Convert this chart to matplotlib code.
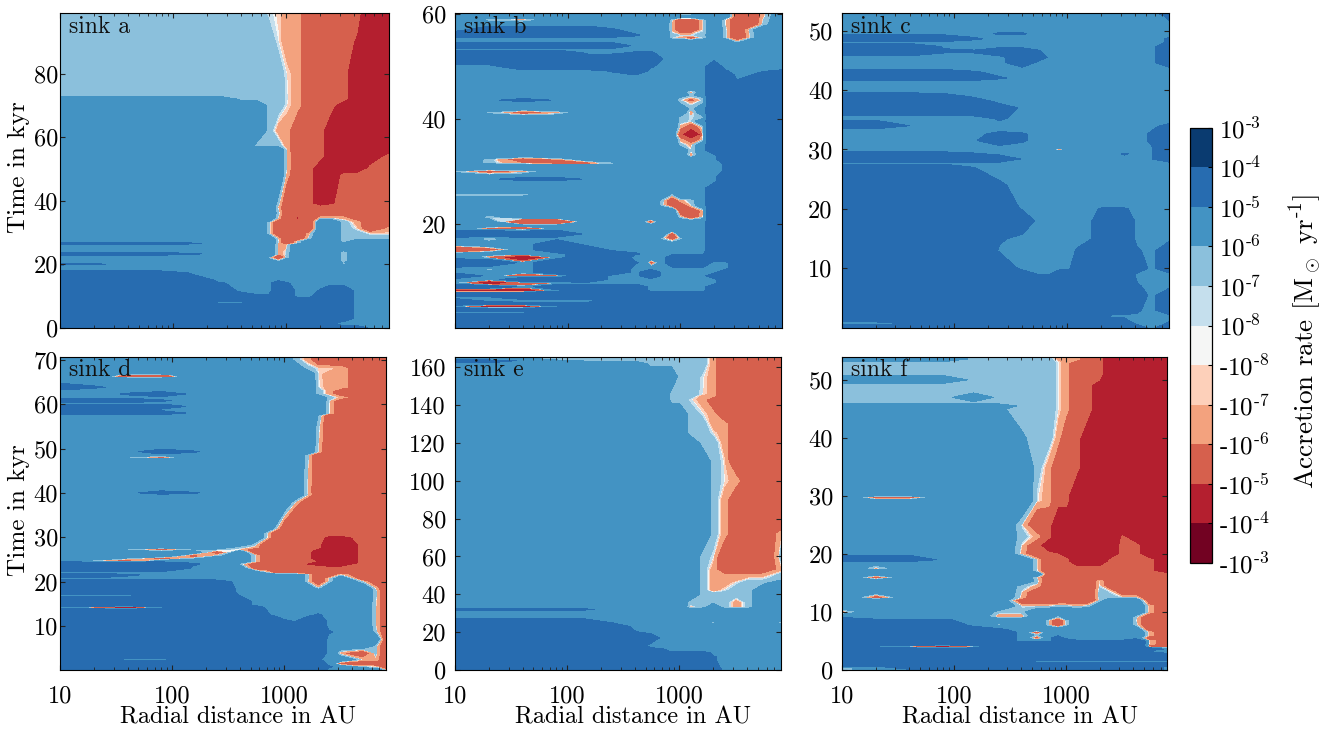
import numpy as np
import matplotlib
matplotlib.use("Agg")
import matplotlib.pyplot as plt
from matplotlib.ticker import LogLocator, NullFormatter

plt.rcParams['font.family'] = ['cmr10', 'DejaVu Serif']
plt.rcParams['mathtext.fontset'] = 'cm'
plt.rcParams['axes.unicode_minus'] = False
plt.rcParams['axes.formatter.use_mathtext'] = True

# level edges of the colour bar, in solar masses per year
rate_edges = [-1e-3, -1e-4, -1e-5, -1e-6, -1e-7, -1e-8, 1e-8, 1e-7, 1e-6, 1e-5, 1e-4, 1e-3]
band_colors = ['#720222', '#b41f2f', '#d6604d', '#f3a27e', '#fdd0ba', '#f5f6f5',
               '#c5dfed', '#8bc0dc', '#4393c3', '#276cb0', '#0a3b70']
band_labels = ['-10$^{\\text{-3}}$', '-10$^{\\text{-4}}$', '-10$^{\\text{-5}}$', '-10$^{\\text{-6}}$',
               '-10$^{\\text{-7}}$', '-10$^{\\text{-8}}$', '10$^{\\text{-8}}$', '10$^{\\text{-7}}$',
               '10$^{\\text{-6}}$', '10$^{\\text{-5}}$', '10$^{\\text{-4}}$', '10$^{\\text{-3}}$']

radius = [10, 20, 40, 80, 150, 250, 400, 550, 700, 850, 1000, 1250, 1600, 2000, 2500, 3200, 4200, 5500, 8000]
radius_d = [10, 20, 40, 80, 150, 250, 400, 550, 700, 850, 1000, 1250, 1600, 2000, 2500, 3200, 5000, 6500, 8000]

# grid values below are read off the picture as band numbers:
# +1..+5 = the positive colour bands from 1e-8 upward, -1..-5 = the negative ones, 0 = the white band
a_time = [0, 0.8, 1.5, 3, 8, 9.5, 10, 11.5, 14, 15, 17.3, 18, 19.6, 20, 20.4, 21, 22, 22.7, 23.2, 23.8, 26, 26.5, 27, 28,
          29.5, 31, 33.2, 34.5, 36, 38, 39, 48, 50, 54, 56, 57.3, 62, 70, 72, 73.2, 80, 90, 99.2]
a_rate = [
    [4]*17+[3,3],
    [3,3,3]+[4]*12+[3,3,3,2],
    [4]*14+[3.6,3,3,3,3],
    [4]*16+[3,3,3],
    [4]*5+[3.4,3.4]+[4]*9+[3,3,3],
    [4]*11+[3.5,3.5,4,4,4,3,3,3],
    [4]*7+[3.6,3.6,4,4,3,3,4,4,4,3,3,3],
    [4]*6+[3,3,3,4,4,3,3,3.6,4,4,3,3,3],
    [4]*5+[3.6,3,3,3,4,3.6]+[3]*8,
    [4]*5+[3]*14,
    [4]*4+[3]*15,
    [3]*19,
    [3]*19,
    [4,3.6]+[3]*13+[2]+[3]*3,
    [3]*15+[2.4]+[3]*3,
    [3]*9+[2]+[3]*5+[2]+[3]*3,
    [3]*8+[1,-3,1]+[3]*4+[1.5]+[3]*3,
    [3]*8+[3,-3,2]+[3]*4+[1.5]+[3]*3,
    [4,4,4,4,3.6]+[3]*4+[-2,1]+[3]*4+[-1]+[3]*3,
    [3]*9+[-2,1]+[3]*4+[2]+[3]*3,
    [3]*9+[-2,-2]+[3]*4+[3]+[3]*3,
    [4,4,4,4,3.6]+[3]*4+[-2,-3,0,3,3,3,3,3,3,3],
    [3]*9+[-1,-3,0,3,3,3,2,3,3,3],
    [3]*9+[-2,-3,-3,2,3,3,2,2,2,2],
    [3]*8+[2,-3,-3,-3,-2,3,3,2,2,-1,-1],
    [3]*8+[2,-3,-3,-3,-3,3,3,2,-1,-3,-2],
    [3]*8+[2,-3,-3,-3,-3,3,3,2,-2,-3,-3],
    [3]*9+[-2,-3,-3.6,-3,-2,-2,-2,-3,-3,-3],
    [3]*9+[2]+[-3]*9,
    [3]*9+[-2]+[-3]*9,
    [3]*9+[2,-3,-3,-3,-4,-3.6,-3,-3,-3,-3],
    [3]*10+[-2,-3,-3,-4,-4,-3,-3,-3,-3],
    [3]*10+[1,-3,-3,-4,-4,-4,-4,-3,-3],
    [3]*10+[0,-3,-3,-3,-4,-4,-4,-4,-3],
    [3]*10+[-1,-3,-3,-3,-4,-4,-4,-4,-4],
    [3]*7+[2,2,2,-2,-3,-3,-3,-4,-4,-4,-4,-4],
    [3]*8+[2,-2,-2,-3,-3,-3,-4,-4,-4,-4,-4],
    [3]*8+[2,2,0,-2,-3,-3,-3,-4,-4,-4,-4],
    [3]*6+[2,2,2,2,1,-2,-3,-3,-3,-3,-4,-4,-4],
    [2]*10+[1,-2,-3,-3,-3,-3,-4,-4,-4],
    [2]*10+[0,-2,-3,-3,-3,-3,-4,-4,-4],
    [2]*9+[0,-2,-2,-3,-3,-3,-3,-3.6,-4,-4],
    [2]*8+[1,-1,-2,-2,-3,-3,-3,-3,-3,-4,-4],
]

b_time = [0, 2.5, 3, 3.5, 4.2, 4.7, 5.2, 5.8, 6.6, 7.2, 7.9, 8.6, 9.3, 10, 10.7, 11.4, 12.5, 13.5, 14.2, 15, 16, 17.2, 18, 19,
          19.6, 20.3, 21.2, 22.5, 23.5, 24.5, 25.5, 26.8, 28.1, 28.5, 28.9, 30, 30.5, 31.1, 31.5, 32.3, 33, 34, 35, 36, 37, 38.5,
          39.6, 40.3, 41.2, 42, 43.2, 43.6, 44, 44.5, 45.2, 46, 47.5, 48.4, 49.2, 50, 51.5, 52.7, 53.3, 54, 54.8, 55.5, 56, 57,
          58, 59, 59.6, 60.4]
b_rate = [
    [4]*19,
    [4]*19,
    [3,3,3]+[4]*16,
    [4]*19,
    [-3,-4,-4,3]+[4]*15,
    [4]*19,
    [4,3,-3.5,-3.5,-3.5]+[4]*14,
    [3,3]+[4]*17,
    [4]*19,
    [-4,-4,-4,3,4,4,4,3,3,3,3,3,3]+[4]*6,
    [4,4,3,4,4,4,4,3,3,3,3,3,3]+[4]*6,
    [2,-4,-3.5,-3,3,3,3,3,3,3,3,3,3,3]+[4]*5,
    [3,3,4,4,4,3,3,3,3,3,3,3,3,3]+[4]*5,
    [4,3,-3.5,-3.5,4,3,3,4,3,3,3,3,3,4]+[4]*5,
    [3,3,3,4,4,4,3,4,3,3,3,3,3,3]+[4]*5,
    [3,-2.5,3,4,4,4,3,3,3,3,3,3,3,3,3]+[4]*4,
    [4,4,3,4,4,4,3.6,-3,3,4,4,4,4,3,3]+[4]*4,
    [3,-3,-4,3,4,4,3,3,3]+[4]*10,
    [3,3,3,3,4,4,3.6,3,3,3,3.4,3.4,3.4]+[4]*6,
    [-3.5,-3,3,4,4,3,3,3,3,3,3,3,3]+[4]*6,
    [3,3,3,4,3,3,3,3,3,3,3,3,3]+[4]*6,
    [3,-2.5,3,3,3,3,3,3,0,-3,0,3,3]+[4]*6,
    [4,4,4,4,3,3,3,3,3,-3,3,3,3]+[4]*6,
    [3,-3,-3.5,3,3,3,3,3,3,3,3,3,3]+[4]*6,
    [3]*13+[4]*6,
    [3,3,-3.5,-3.5,3,3,3,-3,3,3,3,3,3]+[4]*6,
    [3,1,3,3,3,3,3,3,3,3,1,-3,1]+[4]*6,
    [3]*10+[-3,-3,-2]+[4]*6,
    [3]*8+[1,-3,-3,-1,3]+[4]*6,
    [3]*8+[2,-3,-2,2,3]+[4]*6,
    [2,2,2]+[3]*6+[2,3,3,3]+[4]*6,
    [3]*13+[4]*6,
    [3]*14+[4]*5,
    [3,3,4,4]+[3]*10+[4]*5,
    [3]*14+[4]*5,
    [2,-3,-2.5]+[3]*11+[3.6]+[4]*4,
    [3]*14+[3.6]+[4]*4,
    [3]*14+[3.6]+[4]*4,
    [3,2,-2.5,-3,-3,1]+[3]*8+[3.6]+[4]*4,
    [3,2,-3,-2.5]+[3]*10+[4]*5,
    [3]*11+[-2.5,3]+[3]+[4]*5,
    [3]*11+[1,3]+[4]*6,
    [3]*10+[2,-2,3]+[4]*6,
    [3]*10+[-2,-3,1]+[4]*6,
    [3]*10+[-3,-4.2,1]+[4]*6,
    [3]*10+[-2,-3,2]+[4]*6,
    [3]*10+[2,0,3]+[4]*6,
    [3]*10+[2,1,2]+[4]*6,
    [3,2,-3,-2.5]+[3]*7+[-2.5,3]+[4]*6,
    [3]*11+[2,3]+[4]*6,
    [3]*10+[2,-2,2]+[4]*6,
    [3,3,4,3]+[3]*6+[1,-3,2]+[4]*6,
    [3]*10+[2,-2,2]+[4]*6,
    [3]*11+[2,3]+[4]*6,
    [3]*11+[-2.5,3]+[4]*6,
    [3]*13+[4]*6,
    [3]*13+[4,4,3.5,4,4,4],
    [3,3,3,3,3,3,3.5]+[3]*6+[4,4,3,3.4,4,4],
    [3]*5+[3.6,4,3.2]+[3]*5+[4,3.6,3,3,3.4,3.6],
    [3,3,4,4,4,4,4,3.6]+[3]*5+[4,3,3,3,3,3],
    [4]*8+[3.5]+[3]*10,
    [4,4,4,4,3,3,3.6,3.6]+[3]*11,
    [3]*19,
    [4]*6+[3]*13,
    [3]*15+[-2,3,3,3],
    [3]*9+[1,-2,-3,1,3,2,-3,1,3,3],
    [4,4,4,4,4,4,3.6,3,3,2,1,1,2,3,2,-3,1,3,3],
    [3,4,4,4,4,3.6,3,3,3,-2,-3,-3,-1,3,2,-3,2,3,3],
    [3]*9+[-2,-3,-3,-1,3,1,-3,-3,2,3],
    [3,1,-2.5,3,3,3,3,3,3,0,-3,-3,0,3,1,-3,-3,1,3],
    [3]*15+[-3,-3,-2,3],
    [3]*9+[3,-3,-3,2,3,3,-3,-3,-2,3],
]

c_time = [0, 0.7, 2, 3, 5.5, 7, 9, 10, 13, 15, 18, 20, 20.6, 24, 27, 27.7, 28.4, 29.3, 29.7, 30, 30.4, 31.5, 32.6, 33.3, 34,
          35.2, 37, 38, 39, 39.7, 41.5, 42, 43, 43.6, 44.6, 45.5, 46.5, 47.3, 48, 48.6, 49.5, 50, 52.4, 53]
c_rate = [
    [4]*17+[3,4],
    [3,3,3.6]+[4]*13+[3,3,3.6],
    [4]*14+[3,3,3.4,3,3],
    [4]*16+[3.6,3,4],
    [4]*17+[3,4],
    [4]*6+[3.4]+[4]*9+[3.6,3,3],
    [4]*7+[3.5,3.5]+[4]*7+[3,3,3],
    [4]*6+[3,3,3,3,3]+[4]*6+[3,4],
    [4]*5+[3.4,3,3,3,3,3,3.6,4,4,4,4,3.6,3,4],
    [4]*5+[3.6,3,3,3,3,3,3,3.4,4,4,4,3,3,3],
    [4]*7+[3,3,3,3,3,3.3,4,4,4,3,3,3],
    [4]*6+[3.4,3,3,3,3,3,3,3.6,3.6,3.6,3,3,3],
    [4]*6+[3]*13,
    [4]*5+[3.6]+[3]*13,
    [4]*4+[3.5]+[3]*14,
    [3]*19,
    [4]*6+[3.4]+[3]*10+[3.4,4],
    [4,4,4,4,3.6]+[3]*10+[3.6,3,3.4,4],
    [3]*17+[3.4,4],
    [3]*9+[-3]+[3]*7+[3.4,4],
    [3]*17+[3.4,4],
    [3]*4+[3.4,4,3.6]+[3]*10+[3.6,4],
    [3]*5+[3.8,3.6]+[3]*10+[3.6,4],
    [3]*17+[3.4,4],
    [4,4,3.5]+[3]*14+[3.4,3.6],
    [3]*5+[3.6]+[3]*13,
    [4]*6+[3]*13,
    [4]*5+[3]*14,
    [4,4,4,3.8]+[3]*15,
    [3]*19,
    [3]*19,
    [4]*5+[3.6]+[3]*13,
    [4]*4+[3.6]+[3]*14,
    [3]*19,
    [3]*6+[4]+[3]*11+[4],
    [3]*6+[4,4]+[3]*10+[4],
    [4,4,4,3.6,3.6,4,4,3.6]+[3]*10+[4],
    [4,4,4,3.4]+[3]*14+[4],
    [3]*18+[3.6],
    [4,4,4,4,3.6]+[3]*13+[3.6],
    [3]*5+[3.6,3.6]+[3]*12,
    [3]*19,
    [3]*18+[3.6],
    [3]*7+[3.6]+[3]*10+[4],
]

d_time = [0, 0.8, 1.5, 2.4, 3.9, 5.5, 7, 8.7, 10, 11, 12.5, 13.5, 14.2, 14.7, 15.5, 17, 17.8, 18.5, 20, 20.6, 21.5, 22, 23, 24,
          24.6, 25.2, 25.8, 26.6, 27.2, 27.8, 28.5, 30, 31, 32, 35, 38, 39.6, 40, 40.6, 45, 47.5, 48, 48.6, 49.3, 50, 55,
          57.5, 58, 58.7, 59.5, 60.2, 60.8, 61.5, 62.3, 63, 63.8, 65, 65.8, 66.3, 66.9, 68, 70, 70.9]
d_rate = [
    [3,3,3.5]+[4]*11+[3,3,3,3,0],
    [4]*14+[3.6,3,-1,-2,-3],
    [4]*14+[3,-3,-3,-3,-3],
    [4,4,3,3]+[4]*9+[3.6,3,3,-2,-2,-3],
    [4]*14+[3,-2.5,-3,2,-3],
    [4]*14+[3,3,3,2,-3],
    [4]*14+[3,3,3,3,-3],
    [4]*14+[3.6,3,3,2,-3],
    [4]*14+[3,3,3,0,-3],
    [4]*10+[3.6,3.5,4,4,3,3,3,0,-3],
    [4]*8+[3.6,3,3,3,3,3.6,3,3,3,0,-3],
    [4]*8+[3.5]+[3]*8+[0,-3],
    [3,-3.5,-4,3]+[4]*4+[3]*9+[0,-3],
    [4]*7+[3]*10+[1,-3],
    [4]*7+[3]*10+[1,-3],
    [3,3,3]+[4]*3+[3.4]+[3]*10+[2,-3],
    [4]*6+[3]*11+[2,-3],
    [4]*6+[3]*7+[-1,3,3,3,-2,-3],
    [4]*5+[3.8]+[3]*6+[0,-3,0,3,-1,-3,-3],
    [3]*12+[2,-3,-1,3,-3,-3,-3],
    [4,4,3.6]+[3]*9+[2,-3,-3,-1,-3,-3,-3],
    [3]*8+[2]+[-3]*10,
    [4]*4+[3.4,3,3]+[-3]*12,
    [4]*4+[3.6,3,2]+[-3]*5+[-3.6,-3.8,-4,-4,-3,-3,-3],
    [3,-2.5,-3,3,3,3,3,1]+[-3]*4+[-3,-3.6,-4,-4,-3,-3,-3],
    [3,3,2,-3,2,3,3,1]+[-3]*4+[-3,-4,-4,-4,-3,-3,-3],
    [3,3,3,3,-3,2,3,1]+[-3]*4+[-3,-4,-4,-4,-3,-3,-3],
    [3,3,3,3,3,-3,3,-3]+[-3]*4+[-3,-4,-4,-4,-3,-3,-3],
    [3,3,2,-3,2,2,-2,-3]+[-3]*4+[-3,-3.7,-4,-4,-3,-3,-3],
    [3]*6+[2,-2]+[-3]*4+[-3,-3,-4,-4,-3,-3,-3],
    [3]*7+[2]+[-3]*6+[-4,-4]+[-3]*3,
    [3]*8+[0]+[-3]*5+[-3.7,-3.7]+[-3]*3,
    [3]*8+[1]+[-3]*10,
    [3]*9+[0]+[-3]*9,
    [3]*10+[1]+[-3]*8,
    [3]*11+[1]+[-3]*7,
    [3]*12+[1]+[-3]*6,
    [3,3,3,4,3.6]+[3]*7+[0]+[-3]*6,
    [3]*12+[0]+[-3]*6,
    [3]*12+[1]+[-3]*6,
    [3]*12+[2]+[-3]*6,
    [3,3,2,-3]+[3]*8+[2]+[-3]*6,
    [3]*12+[2]+[-3]*6,
    [3,3,3,4,3.6]+[3]*8+[-1]+[-3]*5,
    [3]*13+[-1]+[-3]*5,
    [3]*13+[2]+[-3]*5,
    [3]*13+[2.5]+[-3]*5,
    [4,4,4,4]+[3]*10+[0]+[-3]*4,
    [3]*14+[0]+[-3]*4,
    [4,4,4,4]+[3]*10+[0]+[-3]*4,
    [3]*14+[0]+[-3]*4,
    [4,4,4,3.6]+[3]*10+[1,-3,-3,-3,-3],
    [3]*14+[2,-2,-3,-3,-3],
    [3,3,3.6,4]+[3]*9+[2,-2]+[-3]*4,
    [3]*13+[2,-2,-3,-3,-3,-3],
    [4,3.6]+[3]*11+[1,-2,-2,-3,-3,-3],
    [3]*13+[1,-2,-2,-3,-3,-3],
    [3]*13+[0,-2,-2,-3,-3,-3],
    [3,3,-3.5,-3.5]+[3]*9+[0,-2,-2,-3,-3,-3],
    [3]*13+[0,-2,-2,-3,-3,-3],
    [3]*12+[2,-1,-1,-2,-3,-3,-3],
    [3]*11+[2,-2]+[-3]*6,
    [3]*11+[2,-2]+[-3]*6,
]

e_time = [0, 5, 7, 9, 10, 13, 17, 20, 23, 25, 27, 27.6, 31, 32, 33, 36, 40, 42, 46, 48, 50, 53, 60, 72, 78, 90, 100, 110, 120,
          125, 130, 135, 143, 145, 146, 155, 162, 163.5, 164, 166]
e_rate = [
    [4]*14+[3]*5,
    [4]*13+[3.6]+[3]*5,
    [4]*6+[3.5]+[4]*6+[3.6]+[3]*5,
    [4]*13+[3]+[3]*5,
    [4]*7+[3.8,3.7]+[3.4]*4+[3]*6,
    [4]*7+[3]*12,
    [4]*8+[3]*11,
    [4]*6+[3.6]+[3]*12,
    [4]*6+[3]*13,
    [4]*5+[3.5]+[3]*7+[1]+[3]*4+[1],
    [4]*4+[3.4]+[3]*14,
    [3]*19,
    [3]*19,
    [4]*4+[3.6]+[3]*14,
    [3]*11+[-2,2,3,2,-2,2,3,3],
    [3]*11+[2,2,2,2,-2,2,3,3],
    [3]*12+[2,2,2,2,2,3,3],
    [3]*12+[2,-2,0,2,2,3,3],
    [3]*12+[2,-2,-2,0,2,2,3],
    [3]*12+[2,-2,-2,-2,1,1,2],
    [3]*12+[2,-2,-2,-2,-2,-2,2],
    [3]*12+[2,-2,-3,-3,-3,-3,-2],
    [3]*12+[2,0,-3,-3,-3,-3,2],
    [3]*12+[3,2,-2,-3,-3,-3,-2],
    [3]*13+[2,-2,-3,-3,-3,-3],
    [3]*13+[2,-2,-3,-3,-3,-3],
    [3]*13+[2,0,-2,-3,-3,-3],
    [3]*13+[2,-1,-3,-3,-3,-3],
    [3]*12+[2,2,-2,-3,-3,-3,-3],
    [3]*11+[2,2,0,-2,-3,-3,-3,-3],
    [3]*11+[2,2,-2,-2,-3,-3,-3,-3],
    [3]*11+[2,1,-2,-3,-3,-3,-3,-3],
    [3]*9+[2,2,1,-2,-3,-3,-3,-3,-3,-3],
    [3]*9+[2,2,2,-2,-2,-3,-3,-3,-3,-3],
    [3]*9+[2,2,2,0,-2,-3,-3,-3,-3,-3],
    [3]*10+[2,2,1,-2,-3,-3,-3,-3,-3],
    [3]*7+[2]*5+[2,-2,-3,-3,-3,-3,-3],
    [4,4,3,3]+[2]*9+[-2,-3,-3,-3,-3,-3],
    [3,3,3,2]+[2]*9+[-2,-3,-3,-3,-3,-3],
    [2]*13+[-2,-3,-3,-3,-3,-3],
]

f_time = [0, 0.5, 1, 1.4, 1.8, 3, 3.2, 3.6, 4, 4.5, 5, 5.5, 6, 6.5, 7, 7.7, 8.6, 9.2, 10, 11, 12, 12.5, 13.5, 14.5, 15.3, 16,
          16.5, 17, 17.5, 18.6, 19, 20, 21.5, 23, 25, 29.2, 29.7, 30.2, 35, 40, 45, 45.5, 46, 47, 48, 49.2, 50, 51, 53, 53.6, 54.2]
f_rate = [
    [2,3,3]+[4]*15+[3],
    [2,3]+[4]*16+[3],
    [4]*19,
    [4,4,4,4,3,2,-2,-3,-3,-3,-3]+[-3.5]*8,
    [4]*19,
    [4]*18+[3],
    [4]*4+[3,-3,3]+[4]*10+[3,-2],
    [4]*18+[3],
    [4,3,-3.5,-4,-3.5]+[4]*12+[-3,-3],
    [4]*17+[1,-3],
    [4]*6+[3,3,3,4,4,3.6,3.6,3.6,3.6,3.6,4,0,-3],
    [4]*6+[3,-3,3,4,3,3,3,3,3,3,3,-3,-3],
    [4]*6+[3,2,3,3,3,3,3,3,3,3,3,-2,-3],
    [4]*6+[3,-3,3,3,3,3,3,3,3,3,3,-2,-3],
    [4]*5+[3.6]+[3]*11+[-3,-3],
    [4,4,4,4,3,1,3,3,1,-3,1,3,3,3,3,3,2,-3,-3],
    [4,3.6,3.6,3.6,3,3,3,3,1,-3,1,3,3,3,3,3,1,-3,-3],
    [3,3,3,3,3,-2.5,-2.5,3,3,2,3,3,3,3,3,3,2,-3,-3],
    [-2.5,3,3,3,3,2,2,3,3,3,3,3,3,3,3,3,3,-2,-3],
    [3]*6+[-1,-2,-1,2,2,-2,2,3,3,3,3,-2,-3],
    [3]*6+[-3]*7+[1,3,3,3,-3,-3],
    [3,-3,3,3,3,3,-2]+[-3]*6+[2,2,-1,-1,-3,-3],
    [3]*6+[0]+[-3]*6+[2,-1,-3,-3,-3,-3],
    [3]*6+[2,-2]+[-3]*5+[0,-3,-3,-3,-3,-3],
    [3]*7+[2]+[-3]*5+[-1]+[-3]*5,
    [3,-3,3,3,3,3,3,-1]+[-3]*11,
    [3]*7+[3]+[-3]*11,
    [3]*7+[1]+[-3]*10+[-4],
    [3,-2.5]+[3]*5+[1]+[-3]*10+[-4],
    [3]*7+[0,-3,-3,-3,-4,-4,-4,-3,-3,-3,-3,-4],
    [4,4,4]+[3]*3+[3,-1,-3,-3,-3,-4,-4,-4,-3.4,-3,-3,-3,-4],
    [3]*6+[-2,-3,-3.2,-3.5,-4,-4,-4,-4,-4,-3,-3,-4,-4],
    [3]*6+[-1,-3,-4,-4,-4,-4,-4,-4,-4,-3,-3,-4,-4],
    [3]*6+[2,-2,-3,-4,-4,-4,-4,-4,-4,-3.4,-4,-4,-4],
    [3]*6+[0,-3,-3,-4,-4,-4,-4,-4,-4,-4,-4,-4,-4],
    [3]*6+[3,1,-2,-3,-3,-4,-4,-4,-4,-4,-4,-4,-4],
    [3,-3,-3]+[3]*3+[3,1,-2,-3,-3,-4,-4,-4,-4,-4,-4,-4,-4],
    [3]*6+[3,1,-2,-3,-3,-4,-4,-4,-4,-4,-4,-4,-4],
    [3]*7+[2,-2,-3,-3,-3]+[-4]*7,
    [3]*6+[2.6,2,2,-2,-3,-3]+[-4]*7,
    [3]*5+[2.6,2,2,2,0,-2,-3,-3]+[-4]*6,
    [3]*6+[2,2,2,0,-2,-3,-3]+[-4]*6,
    [2]*9+[0,-2,-3,-3]+[-4]*6,
    [2,2,2,2,3]+[2]*4+[0,-2,-3,-3]+[-4]*6,
    [2]*9+[0,-2,-3,-3]+[-4]*6,
    [2]*9+[0,-2,-3,-3]+[-4]*6,
    [3,3,3,3]+[2]*5+[0,-2,-3,-3,-3.5]+[-4]*5,
    [2]*9+[0,-2,-3,-3,-3]+[-4]*5,
    [2]*9+[0,-2,-3,-3,-3]+[-4]*5,
    [3]*4+[2]*5+[-2,-2,-2,-3,-3]+[-4]*5,
    [3]*4+[2]*5+[-2,-2,-2,-3,-3]+[-4]*5,
]

panels = [
    ('sink a', radius, a_time, a_rate, (0, 99), [0, 20, 40, 60, 80]),
    ('sink b', radius, b_time, b_rate, (0.1, 60.2), [20, 40, 60]),
    ('sink c', radius, c_time, c_rate, (0.05, 52.9), [10, 20, 30, 40, 50]),
    ('sink d', radius_d, d_time, d_rate, (0.07, 70.7), [10, 20, 30, 40, 50, 60, 70]),
    ('sink e', radius, e_time, e_rate, (0.5, 165.6), [0, 20, 40, 60, 80, 100, 120, 140, 160]),
    ('sink f', radius, f_time, f_rate, (0.07, 54), [0, 10, 20, 30, 40, 50]),
]
boxes_px = [(60, 13.3, 388.5, 327.6), (455, 13.3, 781.7, 327.6), (841.7, 13.3, 1169, 327.6),
            (60, 356.7, 385.7, 670), (455, 356.7, 780.7, 670), (842, 356.7, 1167, 670)]


def band_to_rate(z):
    z = np.array(z, dtype=float)
    mag = np.abs(z)
    out = np.where(mag >= 0.5, np.sign(z) * 10.0 ** (mag - 8.5), z * 2e-8)
    return out


W, H = 1344, 729
fig = plt.figure(figsize=(W/100, H/100), dpi=100)
cs = None
for i, ((name, rad, t, z, ylim, yt), (x0, y0, x1, y1)) in enumerate(zip(panels, boxes_px)):
    ax = fig.add_axes([x0/W, 1-y1/H, (x1-x0)/W, (y1-y0)/H])
    cs = ax.contourf(rad, t, band_to_rate(z), levels=rate_edges, colors=band_colors)
    ax.set_xscale('log')
    ax.set_xlim(10, 8000)
    ax.set_ylim(*ylim)
    ax.set_yticks(yt)
    ax.set_yticklabels([str(v) for v in yt])
    ax.set_xticks([10, 100, 1000])
    ax.xaxis.set_minor_locator(LogLocator(base=10, subs=range(2, 10), numticks=12))
    ax.xaxis.set_minor_formatter(NullFormatter())
    if i >= 3:
        ax.set_xticklabels(['10', '100', '1000'])
        ax.set_xlabel('Radial distance in AU', fontsize=17.5, va='top')
        ax.xaxis.set_label_coords(0.548, -0.116)
    else:
        ax.set_xticklabels([])
    if i in (0, 3):
        ax.set_ylabel('Time in kyr', fontsize=18.2)
        ax.yaxis.set_label_coords(-0.092, 0.51)
    ax.tick_params(axis='both', which='major', direction='in', top=True, right=True,
                   length=3.5, width=0.8, labelsize=17.5, color='#222222')
    ax.tick_params(axis='x', which='major', pad=11)
    ax.tick_params(axis='y', which='major', pad=1.5 if i in (0, 3) else 6.5)
    ax.tick_params(axis='both', which='minor', direction='in', top=True, right=True,
                   length=2, width=0.6, color='#222222')
    for s in ax.spines.values():
        s.set_linewidth(0.8)
    ax.text(0.027, 0.958, name, transform=ax.transAxes, fontsize=17, va='center', ha='left', color='#111111')

cax = fig.add_axes([1189.7/W, 1-563/H, 22/W, 435.3/H])
cb = fig.colorbar(cs, cax=cax, spacing='uniform')
cb.set_ticks(rate_edges, labels=band_labels)
cb.ax.minorticks_off()
cb.ax.tick_params(direction='in', length=3, width=0.8, labelsize=18, pad=5)
cb.outline.set_linewidth(0.9)
cb.set_label('Accretion rate [M$_\\odot$ yr$^{\\text{-1}}$]', fontsize=19.6)
cb.ax.yaxis.set_label_coords(4.45, 0.51)
fig.savefig('out.png', dpi=100)
